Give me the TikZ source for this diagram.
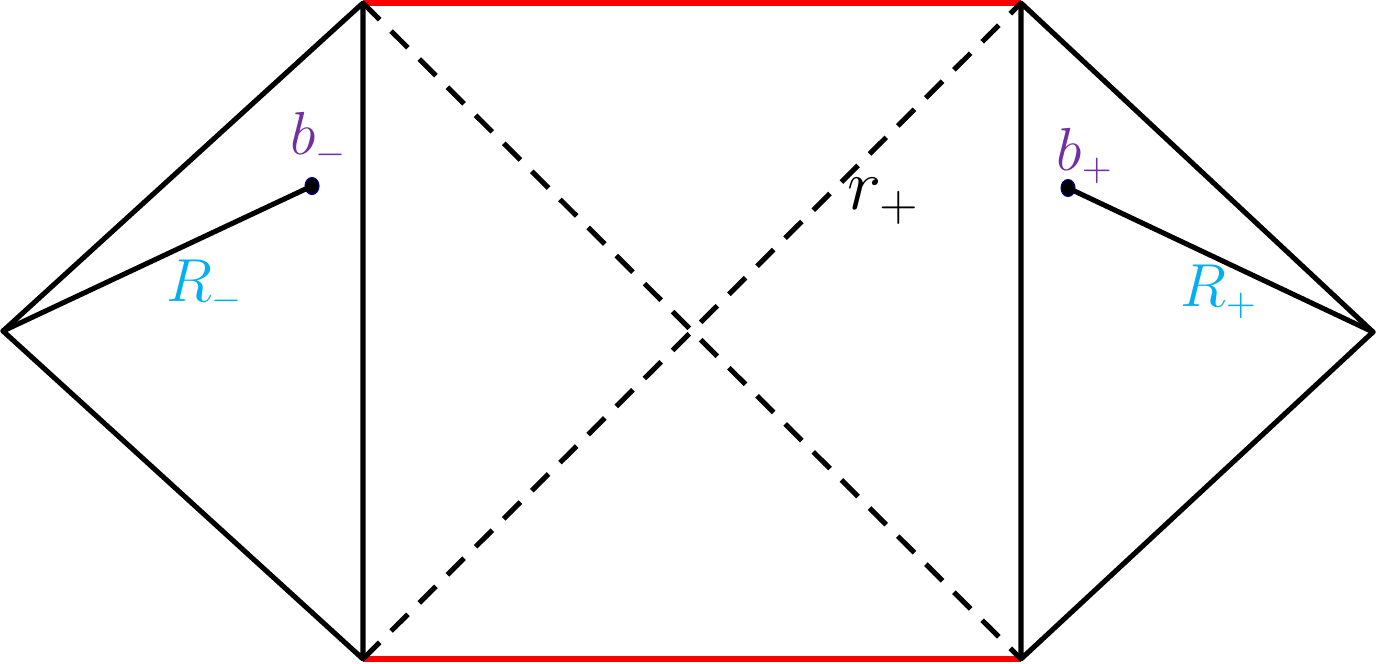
\documentclass[tikz,border=0pt]{standalone}
\usepackage{tikz}
\usetikzlibrary{positioning}
\definecolor{bpurple}{RGB}{112,48,160}
\definecolor{rcyan}{RGB}{0,176,240}
\tikzstyle{edge} = [line width=1.45pt, line cap=round, line join=round]
\tikzstyle{horizon} = [edge, line cap=butt, dash pattern=on 6.7pt off 4.6pt]
\tikzstyle{singular} = [line width=1.7pt, red]
\tikzstyle{brane} = [draw=blue!60!black, fill=black, ellipse, minimum width=0.14cm, minimum height=0.17cm, inner sep=0pt, line width=0.3pt]
\tikzstyle{blabel} = [text=bpurple, font=\fontsize{16}{19}\selectfont, inner sep=0pt]
\tikzstyle{Rlabel} = [text=rcyan, font=\fontsize{16}{19}\selectfont, inner sep=0pt]
\tikzstyle{rlabel} = [font=\fontsize{21}{25}\selectfont, inner sep=0pt]
\usetikzlibrary{shapes.geometric}

\begin{document}
\begin{tikzpicture}[x=0.01cm, y=-0.01cm]
    \useasboundingbox (0,0) rectangle (1377,663);

    % Corners.
    \coordinate (lefttip) at (3,331);
    \coordinate (righttip) at (1373,332);
    \coordinate (topleft) at (363,3);
    \coordinate (botleft) at (363,659);
    \coordinate (topright) at (1021,3);
    \coordinate (botright) at (1021,659);

    % Singularities.
    \draw [singular] (topleft) -- (topright);
    \draw [singular] (botleft) -- (botright);

    % Horizons.
    \draw [horizon] (topleft) -- (botright);
    \draw [horizon] (botleft) -- (topright);

    % Boundaries.
    \draw [edge] (lefttip) -- (topleft) -- (botleft) -- cycle;
    \draw [edge] (righttip) -- (topright) -- (botright) -- cycle;

    % Branes.
    \node (bminus) [brane] at (312,186) {};
    \node (bplus) [brane] at (1068,188) {};
    \draw [edge] (lefttip) -- (bminus);
    \draw [edge] (righttip) -- (bplus);

    % Labels.
    \node (bminuslabel) [blabel] at (319,140) {$b_-$};
    \node (bpluslabel) [blabel] at (1085,156) {$b_+$};
    \node (Rminuslabel) [Rlabel] at (205,287) {$R_-$};
    \node (Rpluslabel) [Rlabel] at (1219,292) {$R_+$};
    \node (rpluslabel) [rlabel] at (884,201) {$r_+$};
\end{tikzpicture}
\end{document}
